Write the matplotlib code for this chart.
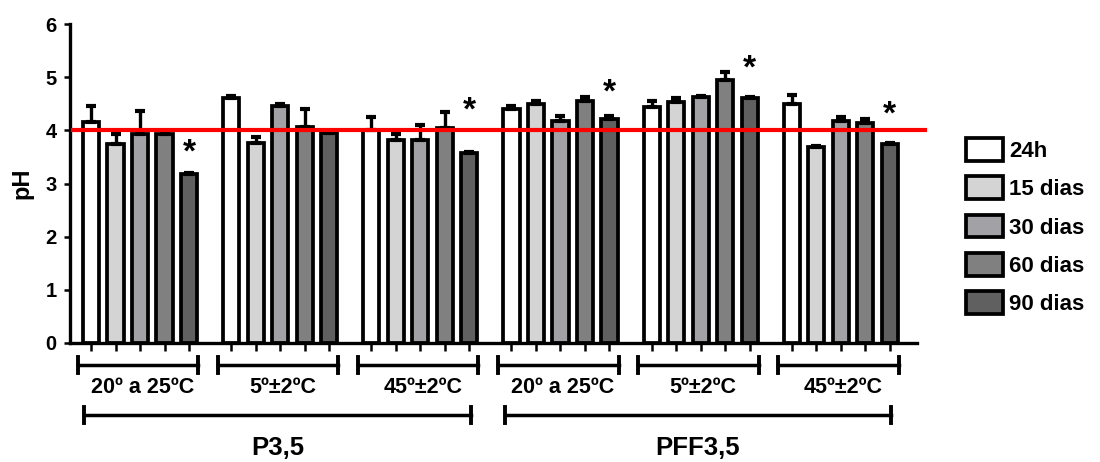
import matplotlib
matplotlib.use('Agg')
import matplotlib.pyplot as plt
from matplotlib.patches import Patch
import numpy as np

plt.rcParams['font.family'] = ['Liberation Sans', 'DejaVu Sans']

#%% data
conditions = ['20º a 25ºC', '5º±2ºC', '45º±2ºC', '20º a 25ºC', '5º±2ºC', '45º±2ºC']
formulations = ['P3,5', 'PFF3,5']
times = ['24h', '15 dias', '30 dias', '60 dias', '90 dias']

ph_24h = [4.15, 4.60, 4.00, 4.41, 4.43, 4.50]
ph_15d = [3.75, 3.77, 3.82, 4.50, 4.54, 3.69]
ph_30d = [3.94, 4.45, 3.82, 4.17, 4.62, 4.17]
ph_60d = [3.94, 4.07, 4.05, 4.55, 4.94, 4.14]
ph_90d = [3.18, 3.95, 3.57, 4.22, 4.60, 3.74]

err_24h = [0.30, 0.05, 0.25, 0.04, 0.12, 0.17]
err_15d = [0.18, 0.10, 0.12, 0.06, 0.06, 0.02]
err_30d = [0.42, 0.05, 0.28, 0.10, 0.02, 0.09]
err_60d = [0.02, 0.34, 0.30, 0.07, 0.16, 0.08]
err_90d = [0.02, 0.02, 0.03, 0.05, 0.02, 0.02]

# asterisks above the 90 dias bars (nan = no asterisk)
star_y = [3.57, np.nan, 4.36, 4.70, 5.15, 4.29]

ph_limit = 4.0

colors = ['#ffffff', '#d4d4d4', '#a2a2a6', '#808080', '#606060']

#%% plot
values = [ph_24h, ph_15d, ph_30d, ph_60d, ph_90d]
errors = [err_24h, err_15d, err_30d, err_60d, err_90d]

group_step = 5.72
group_start = np.arange(len(conditions)) * group_step

fig = plt.figure(figsize=(11, 4.62), dpi=100)
ax = fig.add_axes([70/1100, 1 - 343/462, (917-70)/1100, (343-24)/462])

lw = 2.7
all_pos = []
for i, (vals, errs, col) in enumerate(zip(values, errors, colors)):
    pos = group_start + i
    all_pos.extend(pos)
    ax.bar(pos, vals, width=0.66, color=col, edgecolor='black', linewidth=lw, zorder=2)
    ax.errorbar(pos, vals, yerr=[np.zeros(len(errs)), errs], fmt='none', ecolor='black',
                elinewidth=2.4, capsize=3.8, capthick=3.0, zorder=3)

# asterisks
for x, y in zip(group_start + 4, star_y):
    if not np.isnan(y):
        ax.text(x, y, '*', ha='center', va='center', fontsize=24, fontweight='bold', zorder=5)

# red reference line
ax.plot([-0.73, 34.04], [ph_limit, ph_limit], color='red', linewidth=3, zorder=4, clip_on=False)

# axes style
ax.set_xlim(-0.857, 33.71)
ax.set_ylim(0, 6)
ax.spines['top'].set_visible(False)
ax.spines['right'].set_visible(False)
ax.spines['left'].set_linewidth(2.4)
ax.spines['bottom'].set_linewidth(2.4)
ax.set_xticks(sorted(all_pos))
ax.set_xticklabels([])
ax.tick_params(axis='x', length=5.5, width=1.8, direction='out')
ax.set_yticks(range(7))
ax.tick_params(axis='y', length=4.5, width=1.8, labelsize=14.5, pad=5)
for lab in ax.get_yticklabels():
    lab.set_fontweight('bold')
ax.set_ylabel('pH', fontsize=17, fontweight='bold', labelpad=9)

# condition brackets
cap = 0.15
for x0, name in zip(group_start, conditions):
    xa, xb = x0 - 0.55, x0 + 4.37
    ax.plot([xa, xb], [-0.414, -0.414], color='black', linewidth=2.5, clip_on=False)
    for xe in (xa, xb):
        ax.plot([xe, xe], [-0.414 - cap, -0.414 + cap], color='black', linewidth=2.8, clip_on=False)
    ax.text(x0 + 2.1, -0.83, name, ha='center', va='center', fontsize=15.5, fontweight='bold')

# formulation brackets
for k, name in enumerate(formulations):
    xa = group_start[3*k] - 0.27
    xb = group_start[3*k + 2] + 4.05
    ax.plot([xa, xb], [-1.354, -1.354], color='black', linewidth=2.5, clip_on=False)
    for xe in (xa, xb):
        ax.plot([xe, xe], [-1.354 - cap, -1.354 + cap], color='black', linewidth=2.8, clip_on=False)
    ax.text((xa + xb)/2, -1.98, name, ha='center', va='center', fontsize=18.5, fontweight='bold')

# legend
handles = [Patch(facecolor=c, edgecolor='black', linewidth=lw, label=t) for c, t in zip(colors, times)]
leg = fig.legend(handles=handles, loc='upper left', bbox_to_anchor=(966/1100, 1 - 138/462),
                 frameon=False, fontsize=16, handlelength=1.65, handleheight=1.2,
                 handletextpad=0.3, labelspacing=0.65, borderpad=0, borderaxespad=0)
for t in leg.get_texts():
    t.set_fontweight('bold')

fig.savefig('out.png', dpi=100)
